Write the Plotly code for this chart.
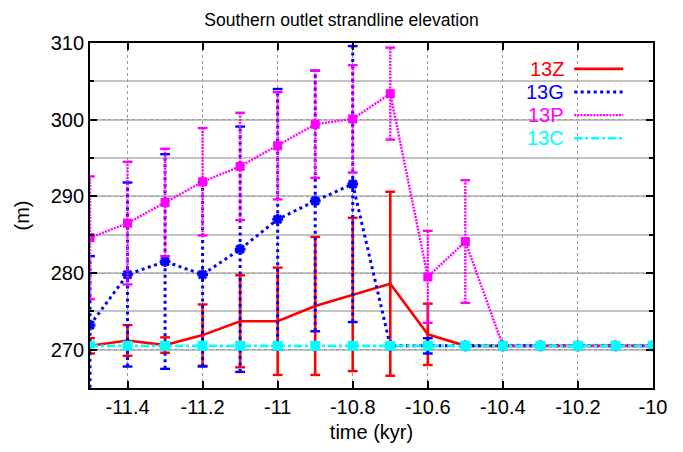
import plotly.graph_objects as go

# ---------------- data ----------------
times = [-11.5, -11.4, -11.3, -11.2, -11.1, -11.0, -10.9, -10.8,
         -10.7, -10.6, -10.5, -10.4, -10.3, -10.2, -10.1, -10.0]

z13 = [270.5, 271.2, 270.6, 271.9, 273.7, 273.7, 275.7, 277.2,
       278.6, 272.0, 270.5, 270.5, 270.5, 270.5, 270.5, 270.5]
z13_err = [1, 2, 1, 4, 6, 7, 9, 10, 12, 4, 0, 0, 0, 0, 0, 0]

g13 = [273.2, 279.8, 281.5, 279.8, 283.1, 287.0, 289.4, 291.6,
       270.5, 270.5, 270.5, 270.5, 270.5, 270.5, 270.5, 270.5]
g13_err = [9, 12, 14, 12, 16, 17, 17, 18, 0, 1, 0, 0, 0, 0, 0, 0]

p13 = [284.6, 286.5, 289.2, 291.9, 293.9, 296.6, 299.4, 300.1,
       303.4, 279.5, 284.1, 270.5, 270.5, 270.5, 270.5, 270.5]
p13_err = [8, 8, 7, 7, 7, 7, 7, 7, 6, 6, 8, 0, 0, 0, 0, 0]

c13 = [270.5, 270.5, 270.5, 270.5, 270.5, 270.5, 270.5, 270.5,
       270.5, 270.5, 270.5, 270.5, 270.5, 270.5, 270.5, 270.5]
c13_err = [0, 0, 0, 0, 0, 0, 0, 0, 0, 0, 0, 0, 0, 0, 0, 0]

series_names = ["13Z", "13G", "13P", "13C"]
x_tickvals = [-11.4, -11.2, -11.0, -10.8, -10.6, -10.4, -10.2, -10.0]
x_ticktext = ["-11.4", "-11.2", "-11", "-10.8", "-10.6", "-10.4", "-10.2", "-10"]
y_tickvals = [270, 280, 290, 300, 310]
y_ticktext = ["270", "280", "290", "300", "310"]

# ---------------- styles ----------------
FONT = "Liberation Sans, Arial, Helvetica, sans-serif"
styles = [
    dict(color="#ff0000", dash="solid", width=2.6, symbol=None, msize=0),
    dict(color="#0000ff", dash="3px,3.5px", width=3, symbol="asterisk-open", msize=9),
    dict(color="#ff00ff", dash="2px,1.2px", width=2.4, symbol="square", msize=9),
    dict(color="#00ffff", dash="8px,3px,3px,3px", width=2.6, symbol="square", msize=10),
]
all_y = [z13, g13, p13, c13]
all_e = [z13_err, g13_err, p13_err, c13_err]

fig = go.Figure()

for name, ys, es, st in zip(series_names, all_y, all_e, styles):
    # error bars as dashed vertical segments
    sx, sy = [], []
    cx, cy = [], []
    for x, y, e in zip(times, ys, es):
        if e > 0:
            sx += [x, x, None]
            sy += [y - e, y + e, None]
            cx += [x, x]
            cy += [y - e, y + e]
    if sx:
        fig.add_trace(go.Scatter(x=sx, y=sy, mode="lines", showlegend=False,
                                 line=dict(color=st["color"], width=st["width"], dash=st["dash"]),
                                 hoverinfo="skip"))
        fig.add_trace(go.Scatter(x=cx, y=cy, mode="markers", showlegend=False,
                                 marker=dict(symbol="line-ew", size=7,
                                             line=dict(color=st["color"], width=2.4)),
                                 hoverinfo="skip"))
    # main line
    if st["symbol"]:
        if st["symbol"] == "asterisk-open":
            marker = dict(symbol="asterisk-open", size=st["msize"],
                          line=dict(color=st["color"], width=3))
        else:
            marker = dict(symbol=st["symbol"], size=st["msize"], color=st["color"],
                          line=dict(width=0))
        mode = "lines+markers"
    else:
        marker = None
        mode = "lines"
    fig.add_trace(go.Scatter(x=times, y=ys, mode=mode, name=name, showlegend=False,
                             line=dict(color=st["color"], width=st["width"], dash=st["dash"]),
                             marker=marker))

# ---------------- custom legend (text left of sample line) ----------------
leg_y = [0.925, 0.858, 0.791, 0.724]
for name, st, ly in zip(series_names, styles, leg_y):
    fig.add_shape(type="line", xref="paper", yref="paper",
                  x0=0.860, x1=0.947, y0=ly, y1=ly,
                  line=dict(color=st["color"], width=st["width"], dash=st["dash"]))
    fig.add_annotation(xref="paper", yref="paper", x=0.845, y=ly,
                       text=name, showarrow=False, xanchor="right", yanchor="middle",
                       font=dict(family=FONT, size=20, color=st["color"]))

fig.update_layout(
    width=683, height=452,
    margin=dict(l=90, r=30, t=43, b=60),
    paper_bgcolor="white", plot_bgcolor="white",
    font=dict(family=FONT, size=20, color="black"),
    title=dict(text="Southern outlet strandline elevation", x=0.5, xref="container",
               xanchor="center", y=0.956, yanchor="middle",
               font=dict(family=FONT, size=17.5, color="black")),
    showlegend=False,
)

fig.update_xaxes(
    range=[-11.5, -10.0], tickvals=x_tickvals, ticktext=x_ticktext,
    ticks="inside", ticklen=7, tickwidth=1.5, tickcolor="black",
    showline=True, linecolor="black", linewidth=1.8, mirror="ticks",
    showgrid=True, gridcolor="#9a9a9a", griddash="dot", gridwidth=1,
    zeroline=False,
    tickfont=dict(family=FONT, size=20),
    title=dict(text="time (kyr)", font=dict(family=FONT, size=20), standoff=8),
)
fig.update_yaxes(
    range=[265.0, 310.0], tickvals=y_tickvals, ticktext=y_ticktext,
    ticks="inside", ticklen=7, tickwidth=1.5, tickcolor="black",
    showline=True, linecolor="black", linewidth=1.8, mirror="ticks",
    showgrid=True, gridcolor="#9a9a9a", griddash="dot", gridwidth=1,
    zeroline=False,
    minor=dict(tick0=265, dtick=5, ticks="inside", ticklen=4, tickcolor="black",
               showgrid=True, gridcolor="#c4c4c4", griddash="solid", gridwidth=1.5),
    tickfont=dict(family=FONT, size=20),
    title=dict(text="(m)", font=dict(family=FONT, size=20), standoff=16),
)

fig.write_html("out.html")
